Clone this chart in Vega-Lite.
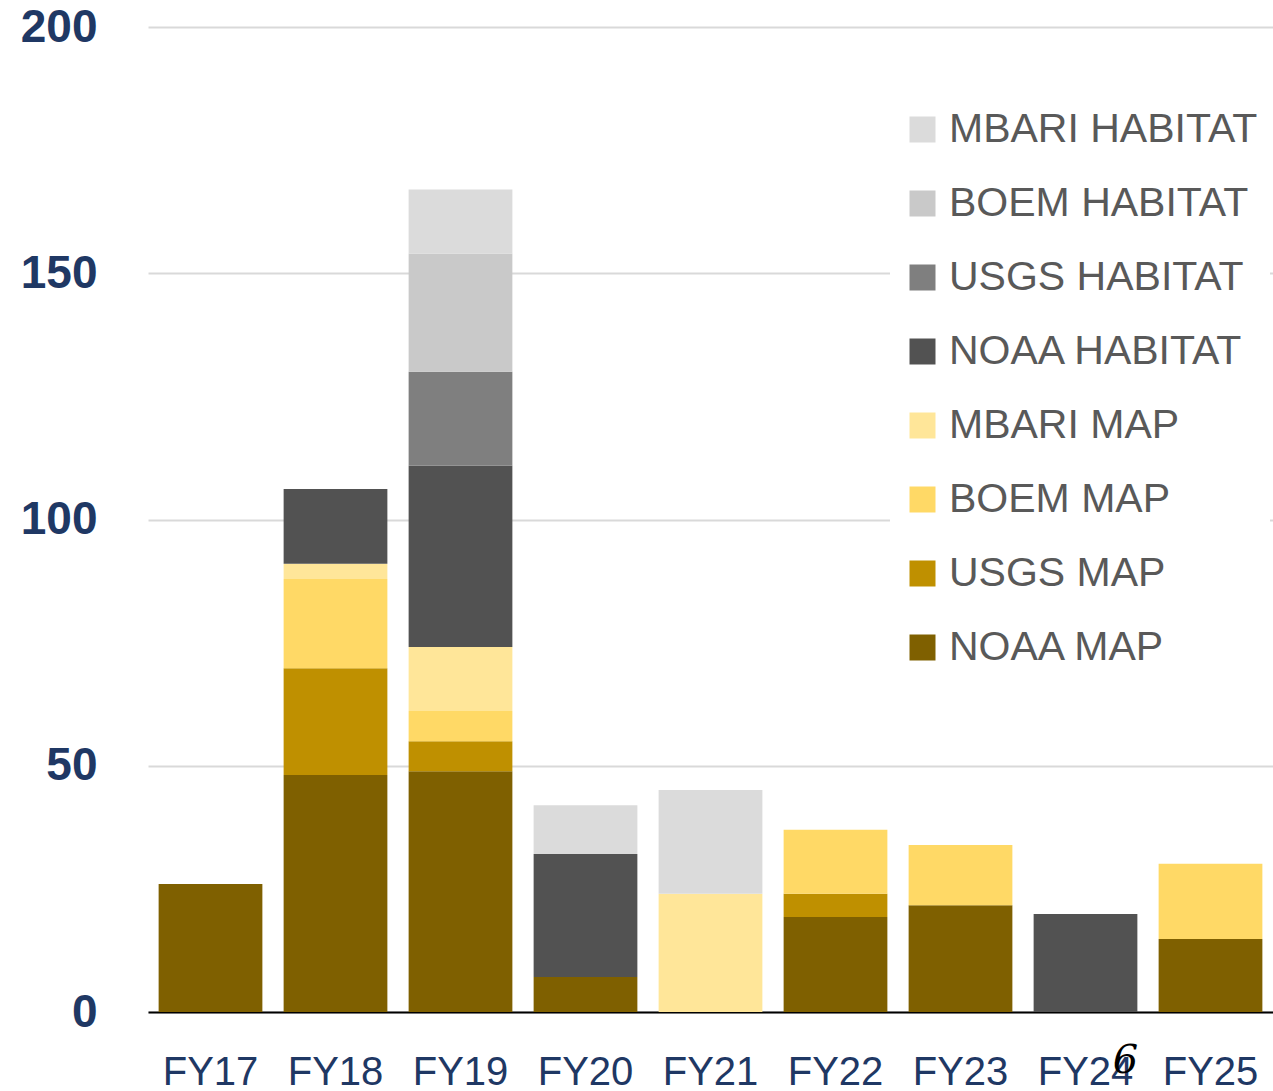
{
  "$schema": "https://vega.github.io/schema/vega-lite/v6.json",
  "autosize": "none",
  "width": 1125,
  "height": 985,
  "padding": {"left": 148, "top": 27, "right": 0, "bottom": 79},
  "background": "white",
  "config": {"view": {"stroke": null}, "font": "Liberation Sans"},
  "datasets": {
    "bars": [
      {"year": "FY17", "series": "NOAA MAP", "value": 26.0},
      {"year": "FY18", "series": "NOAA MAP", "value": 48.1},
      {"year": "FY18", "series": "USGS MAP", "value": 21.7},
      {"year": "FY18", "series": "BOEM MAP", "value": 18.1},
      {"year": "FY18", "series": "MBARI MAP", "value": 3.1},
      {"year": "FY18", "series": "NOAA HABITAT", "value": 15.2},
      {"year": "FY19", "series": "NOAA MAP", "value": 48.9},
      {"year": "FY19", "series": "USGS MAP", "value": 6.1},
      {"year": "FY19", "series": "BOEM MAP", "value": 6.1},
      {"year": "FY19", "series": "MBARI MAP", "value": 13.0},
      {"year": "FY19", "series": "NOAA HABITAT", "value": 36.8},
      {"year": "FY19", "series": "USGS HABITAT", "value": 19.1},
      {"year": "FY19", "series": "BOEM HABITAT", "value": 24.0},
      {"year": "FY19", "series": "MBARI HABITAT", "value": 13.0},
      {"year": "FY20", "series": "NOAA MAP", "value": 7.1},
      {"year": "FY20", "series": "NOAA HABITAT", "value": 25.0},
      {"year": "FY20", "series": "MBARI HABITAT", "value": 9.9},
      {"year": "FY21", "series": "MBARI MAP", "value": 24.0},
      {"year": "FY21", "series": "MBARI HABITAT", "value": 21.1},
      {"year": "FY22", "series": "NOAA MAP", "value": 19.3},
      {"year": "FY22", "series": "USGS MAP", "value": 4.7},
      {"year": "FY22", "series": "BOEM MAP", "value": 13.0},
      {"year": "FY23", "series": "NOAA MAP", "value": 21.7},
      {"year": "FY23", "series": "BOEM MAP", "value": 12.2},
      {"year": "FY24", "series": "NOAA HABITAT", "value": 19.9},
      {"year": "FY25", "series": "NOAA MAP", "value": 14.8},
      {"year": "FY25", "series": "BOEM MAP", "value": 15.3}
    ],
    "note": [{"year": "FY24", "label": "6", "value": -10}]
  },
  "layer": [
    {
      "data": {"name": "bars"},
      "transform": [
        {"calculate": "indexof(['NOAA MAP','USGS MAP','BOEM MAP','MBARI MAP','NOAA HABITAT','USGS HABITAT','BOEM HABITAT','MBARI HABITAT'], datum.series)", "as": "stackRank"}
      ],
      "mark": {"type": "bar"},
      "encoding": {
        "x": {
          "field": "year", "type": "nominal",
          "sort": ["FY17","FY18","FY19","FY20","FY21","FY22","FY23","FY24","FY25"],
          "scale": {"paddingInner": 0.17, "paddingOuter": 0.085},
          "axis": {
            "title": null, "labelAngle": 0, "ticks": false,
            "domainColor": "#000000", "domainWidth": 2,
            "labelFontSize": 40, "labelColor": "#1F3864", "labelPadding": 40,
            "labelFont": "Liberation Sans"
          }
        },
        "y": {
          "field": "value", "type": "quantitative", "aggregate": "sum",
          "scale": {"domain": [0, 200]},
          "axis": {
            "title": null, "values": [0, 50, 100, 150, 200], "ticks": false, "domain": false,
            "gridColor": "#D9D9D9", "gridWidth": 2,
            "labelFontSize": 46, "labelFontWeight": "bold", "labelColor": "#1F3864",
            "labelPadding": 51, "labelFont": "Liberation Sans"
          }
        },
        "color": {
          "field": "series", "type": "nominal",
          "scale": {
            "domain": ["MBARI HABITAT","BOEM HABITAT","USGS HABITAT","NOAA HABITAT","MBARI MAP","BOEM MAP","USGS MAP","NOAA MAP"],
            "range": ["#DBDBDB","#C9C9C9","#7F7F7F","#525252","#FFE699","#FFD966","#BF9000","#7F6000"]
          },
          "legend": {
            "title": null, "orient": "none", "legendX": 742, "legendY": 70,
            "fillColor": "white", "padding": 12,
            "symbolType": "square", "symbolSize": 676, "symbolStrokeWidth": 0,
            "labelFontSize": 41, "labelColor": "#595959", "labelFont": "Liberation Sans",
            "labelOffset": 6, "rowPadding": 32, "labelLimit": 400
          }
        },
        "order": {"field": "stackRank", "type": "quantitative", "sort": "ascending"}
      }
    },
    {
      "data": {"name": "note"},
      "mark": {"type": "text", "font": "DejaVu Serif", "fontStyle": "italic", "fontSize": 40, "color": "#000000", "xOffset": 40},
      "encoding": {
        "x": {"field": "year", "type": "nominal", "sort": ["FY17","FY18","FY19","FY20","FY21","FY22","FY23","FY24","FY25"]},
        "y": {"field": "value", "type": "quantitative"},
        "text": {"field": "label"}
      }
    }
  ]
}
